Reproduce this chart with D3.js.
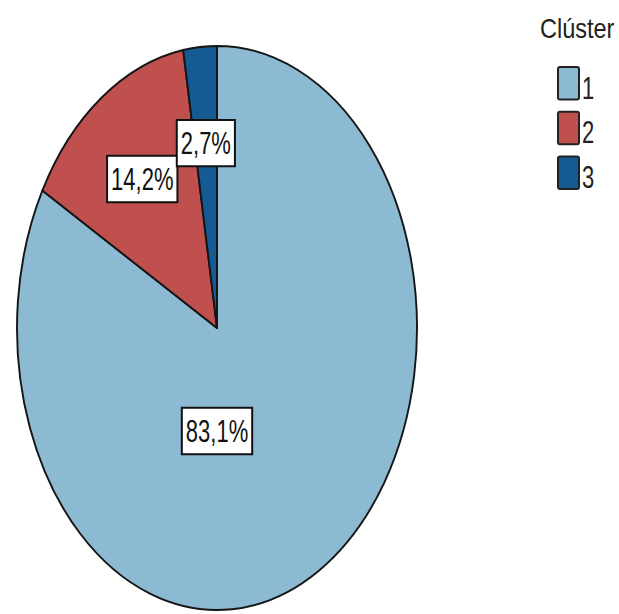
<!DOCTYPE html>
<html>
<head>
<meta charset="utf-8">
<script src="https://cdn.jsdelivr.net/npm/d3@7"></script>
<style>
  html, body { margin: 0; padding: 0; background: #fff; }
  svg { display: block; }
</style>
</head>
<body>
<svg id="chart" width="619" height="614"></svg>
<script>
// ---- data ----
const categories = ["1", "2", "3"];
const values = [83.1, 14.2, 2.7];
const valueLabels = ["83,1%", "14,2%", "2,7%"];
const colors = ["#8cbad3", "#c0504e", "#145b93"];
const legendTitle = "Clúster";

// ---- layout ----
const W = 619, H = 614;
const cx = 217, cy = 328, rx = 200, ry = 282;
const sy = ry / rx;                 // vertical stretch of the picture
const labelAngleOverride = [Math.PI, null, null];
const labelRadius = [0.365, 0.647, 0.658];

const svg = d3.select("#chart");

const pie = d3.pie().sort(null).value(d => d).startAngle(0).endAngle(2 * Math.PI);
const arcs = pie(values);
const arc = d3.arc().innerRadius(0).outerRadius(rx);

const g = svg.append("g").attr("transform", `translate(${cx},${cy}) scale(1,${sy})`);
g.selectAll("path.slice")
  .data(arcs)
  .join("path")
  .attr("class", "slice")
  .attr("d", arc)
  .attr("fill", (d, i) => colors[i])
  .attr("stroke", "#151515")
  .attr("stroke-width", 1.9)
  .attr("stroke-linejoin", "round")
  .attr("vector-effect", "non-scaling-stroke");

// labels
arcs.forEach((d, i) => {
  const a = labelAngleOverride[i] != null ? labelAngleOverride[i] : (d.startAngle + d.endAngle) / 2;
  const r = labelRadius[i] * rx;
  const px = cx + r * Math.sin(a);
  const py = cy - r * Math.cos(a) * sy;
  const lg = svg.append("g").attr("transform", `translate(${px},${py}) scale(1,1.45)`);
  const rect = lg.append("rect");
  const t = lg.append("text")
    .attr("text-anchor", "middle")
    .attr("dominant-baseline", "central")
    .attr("font-family", "Liberation Sans, Arial, sans-serif")
    .attr("font-size", 22)
    .attr("fill", "#111")
    .text(valueLabels[i]);
  const bb = t.node().getBBox();
  const bw = bb.width + 8, bh = 32;
  rect.attr("x", -bw / 2).attr("y", -bh / 2)
    .attr("width", bw).attr("height", bh)
    .attr("fill", "#fff")
    .attr("stroke", "#111")
    .attr("stroke-width", 2)
    .attr("vector-effect", "non-scaling-stroke");
});

// legend
const leg = svg.append("g");
leg.append("text")
  .attr("transform", `translate(540,38) scale(1,1.2)`)
  .attr("font-family", "Liberation Sans, Arial, sans-serif")
  .attr("font-size", 23.5)
  .attr("fill", "#222")
  .text(legendTitle);

const legY = d3.scaleBand().domain(categories).range([67, 189]).paddingInner(0.27).paddingOuter(0);
categories.forEach((c, i) => {
  const y0 = legY(c);
  leg.append("rect")
    .attr("x", 558).attr("y", y0)
    .attr("width", 21).attr("height", legY.bandwidth())
    .attr("rx", 2)
    .attr("fill", colors[i])
    .attr("stroke", "#222")
    .attr("stroke-width", 2);
  leg.append("text")
    .attr("transform", `translate(582,${y0 + legY.bandwidth() - 1}) scale(1,1.45)`)
    .attr("font-family", "Liberation Sans, Arial, sans-serif")
    .attr("font-size", 22)
    .attr("fill", "#222")
    .text(c);
});
</script>
</body>
</html>
